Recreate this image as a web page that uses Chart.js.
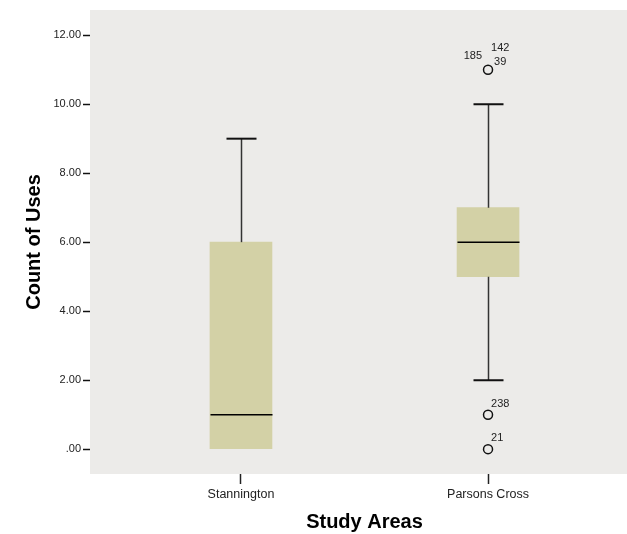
<!DOCTYPE html>
<html>
<head>
<meta charset="utf-8">
<script src="https://cdn.jsdelivr.net/npm/chart.js@4.4.1/dist/chart.umd.min.js"></script>
<style>
  html, body { margin: 0; padding: 0; background: #fff; overflow: hidden; }
  /* el grafico original de SPSS viene recortado por la derecha */
  #wrap { width: 627px; height: 534px; overflow: hidden; }
</style>
</head>
<body>
<div id="wrap"><canvas id="boxChart" width="640" height="534"></canvas></div>
<script>
// --- DATOS ---
const categories = ['Stannington', 'Parsons Cross'];
const q1 = [0, 5];
const median = [1, 6];
const q3 = [6, 7];
const whiskerLow = [0, 2];
const whiskerHigh = [9, 10];

const outlierCat = [2, 2, 2];
const outlierVal = [11, 1, 0];
const outlierIds = [['185', '142', '39'], ['238'], ['21']];

const yTickValues = [0, 2, 4, 6, 8, 10, 12];
const yTickLabels = ['.00', '2.00', '4.00', '6.00', '8.00', '10.00', '12.00'];

// --- ESTILO ---
const plotBg = '#ecebe9';
const boxFill = '#d3d1a6';
const fontFamily = '"Liberation Sans", Arial, Helvetica, sans-serif';

// fondo gris del area de trazado
const plotBackground = {
    id: 'plotBackground',
    beforeDraw(chart) {
        const { ctx, chartArea: a } = chart;
        ctx.save();
        ctx.fillStyle = plotBg;
        ctx.fillRect(a.left, a.top, a.right - a.left, a.bottom - a.top);
        ctx.restore();
    }
};

// bigotes y medianas
const whiskers = {
    id: 'whiskers',
    afterDatasetsDraw(chart) {
        const { ctx } = chart;
        const xs = chart.scales.x, ys = chart.scales.y;
        const boxW = 62, capW = 30;
        ctx.save();
        categories.forEach((c, i) => {
            const x = Math.round(xs.getPixelForValue(i + 1)) + 0.5;
            ctx.strokeStyle = '#333';
            ctx.lineWidth = 1.5;
            ctx.beginPath();
            if (whiskerHigh[i] > q3[i]) {
                ctx.moveTo(x, ys.getPixelForValue(q3[i]));
                ctx.lineTo(x, ys.getPixelForValue(whiskerHigh[i]));
            }
            if (whiskerLow[i] < q1[i]) {
                ctx.moveTo(x, ys.getPixelForValue(q1[i]));
                ctx.lineTo(x, ys.getPixelForValue(whiskerLow[i]));
            }
            ctx.stroke();

            ctx.strokeStyle = '#111';
            ctx.lineWidth = 2;
            ctx.beginPath();
            if (whiskerHigh[i] > q3[i]) {
                const yh = ys.getPixelForValue(whiskerHigh[i]);
                ctx.moveTo(x - capW / 2, yh);
                ctx.lineTo(x + capW / 2, yh);
            }
            if (whiskerLow[i] < q1[i]) {
                const yl = ys.getPixelForValue(whiskerLow[i]);
                ctx.moveTo(x - capW / 2, yl);
                ctx.lineTo(x + capW / 2, yl);
            }
            ctx.stroke();

            // mediana
            ctx.strokeStyle = '#000';
            ctx.lineWidth = 1.5;
            const ym = ys.getPixelForValue(median[i]);
            ctx.beginPath();
            ctx.moveTo(x - boxW / 2, ym);
            ctx.lineTo(x + boxW / 2, ym);
            ctx.stroke();
        });
        ctx.restore();
    }
};

// etiquetas de casos atipicos (offsets al estilo SPSS)
const outlierLabels = {
    id: 'outlierLabels',
    afterDatasetsDraw(chart) {
        const { ctx } = chart;
        const xs = chart.scales.x, ys = chart.scales.y;
        const groupOffsets = {
            1: [[3, -11, 'left']],
            3: [[-6, -14, 'right'], [3, -22, 'left'], [6, -8, 'left']]
        };
        ctx.save();
        ctx.font = '11px ' + fontFamily;
        ctx.fillStyle = '#222';
        ctx.textBaseline = 'middle';
        outlierIds.forEach((ids, k) => {
            const px = xs.getPixelForValue(outlierCat[k]);
            const py = ys.getPixelForValue(outlierVal[k]);
            const offs = groupOffsets[ids.length] || groupOffsets[1];
            ids.forEach((id, j) => {
                const o = offs[j] || offs[0];
                ctx.textAlign = o[2];
                ctx.fillText(id, px + o[0], py + o[1]);
            });
        });
        ctx.restore();
    }
};

new Chart(document.getElementById('boxChart'), {
    type: 'bar',
    data: {
        datasets: [
            {
                label: 'box',
                data: categories.map((c, i) => ({ x: i + 1, y: [q1[i], q3[i]] })),
                backgroundColor: boxFill,
                borderWidth: 0,
                barThickness: 62,
                order: 2
            },
            {
                type: 'scatter',
                label: 'outliers',
                data: outlierVal.map((v, k) => ({ x: outlierCat[k], y: v })),
                pointStyle: 'circle',
                pointRadius: 4.5,
                borderWidth: 1.5,
                borderColor: '#111',
                backgroundColor: 'rgba(0,0,0,0)',
                order: 1
            }
        ]
    },
    options: {
        responsive: false,
        animation: false,
        layout: { autoPadding: false, padding: { left: 0, right: 1, top: 10, bottom: 0 } },
        plugins: {
            legend: { display: false },
            tooltip: { enabled: false }
        },
        scales: {
            x: {
                type: 'linear',
                offset: false,
                min: 0.3889,
                max: 2.6111,
                afterBuildTicks(scale) {
                    scale.ticks = categories.map((c, i) => ({ value: i + 1 }));
                },
                afterFit(scale) { scale.height = 60; },
                ticks: {
                    autoSkip: false,
                    maxRotation: 0,
                    padding: 3,
                    color: '#222',
                    font: { family: fontFamily, size: 12.5 },
                    callback: (v) => categories[v - 1] || ''
                },
                grid: {
                    offset: false,
                    drawOnChartArea: false,
                    drawTicks: true,
                    tickLength: 10,
                    tickColor: '#222',
                    tickWidth: 1.5
                },
                border: { display: false },
                title: {
                    display: true,
                    text: 'Study Areas',
                    color: '#000',
                    font: { family: fontFamily, size: 20, weight: 'bold' },
                    padding: { top: 0, bottom: 0 }
                }
            },
            y: {
                min: -0.72,
                max: 12.73,
                afterBuildTicks(scale) {
                    scale.ticks = yTickValues.map(v => ({ value: v }));
                },
                afterFit(scale) { scale.width = 90; },
                ticks: {
                    autoSkip: false,
                    padding: 2,
                    color: '#222',
                    font: { family: fontFamily, size: 11 },
                    callback: (v) => yTickLabels[yTickValues.indexOf(v)]
                },
                grid: {
                    drawOnChartArea: false,
                    drawTicks: true,
                    tickLength: 7,
                    tickColor: '#111',
                    tickWidth: 1.5
                },
                border: { display: false },
                title: {
                    display: true,
                    text: 'Count of Uses',
                    color: '#000',
                    font: { family: fontFamily, size: 20, weight: 'bold' },
                    padding: { top: 22, bottom: 0 }
                }
            }
        }
    },
    plugins: [plotBackground, whiskers, outlierLabels]
});
</script>
</body>
</html>
